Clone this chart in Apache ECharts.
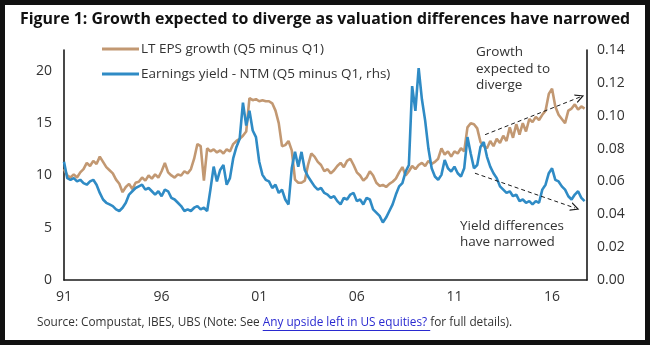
<!DOCTYPE html>
<html>
<head>
<meta charset="utf-8">
<script src="https://cdn.jsdelivr.net/npm/echarts@6/dist/echarts.min.js"></script>
<style>
  html, body { margin: 0; padding: 0; background: #fff; }
  #chart { width: 650px; height: 345px; }
</style>
</head>
<body>
<div id="chart"></div>
<script>
// Bi-monthly observations starting January 1991
const startYear = 1991;
const stepMonths = 2;

// LT EPS growth, Q5 minus Q1 (left axis, %)
const epsGrowth = [
  10.6, 10.0, 9.8, 10.1, 9.8, 10.3,
  10.6, 11.2, 10.9, 11.4, 11.1, 11.8,
  11.3, 10.8, 10.5, 10.2, 9.6, 9.2,
  8.4, 8.9, 9.2, 8.7, 9.3, 9.4,
  9.8, 9.5, 10.0, 9.7, 10.1, 9.8,
  10.4, 11.2, 10.3, 10.0, 9.8, 10.1,
  10.0, 10.4, 10.2, 10.6, 11.6, 13.0,
  12.8, 9.5, 12.6, 12.3, 12.5, 12.2,
  12.4, 12.1, 12.5, 12.3, 13.0, 13.3,
  13.5, 13.8, 14.2, 17.4, 17.2, 17.3,
  17.1, 17.2, 17.1, 17.1, 16.9, 16.2,
  15.0, 12.8, 12.9, 13.3, 12.4, 9.6,
  9.3, 9.3, 9.5, 11.0, 12.1, 11.8,
  11.3, 11.0, 10.4, 10.6, 10.2, 10.5,
  10.9, 11.2, 10.8, 11.4, 11.6, 11.0,
  10.3, 10.0, 9.5, 9.8, 10.4, 10.0,
  9.3, 9.0, 9.1, 8.9, 9.2, 9.4,
  9.7, 10.3, 10.8, 10.0, 10.4, 10.9,
  10.6, 11.0, 11.2, 10.9, 11.4, 11.1,
  11.3, 11.6, 12.6, 12.0, 12.3, 11.8,
  12.3, 12.1, 12.6, 12.3, 14.6, 15.0,
  14.9, 14.5, 13.2, 12.8, 12.6, 13.3,
  12.8, 13.5, 13.1, 13.8, 13.3, 14.6,
  13.6, 14.9, 13.9, 15.0, 14.2, 15.4,
  15.1, 15.6, 15.3, 15.8, 16.2, 17.8,
  18.3, 16.6, 15.8, 15.4, 15.0, 16.2,
  16.4, 16.8, 16.3, 16.6, 16.4
];

// Earnings yield NTM, Q5 minus Q1 (right axis)
const earningsYield = [
  0.072, 0.062, 0.061, 0.062, 0.060, 0.061,
  0.059, 0.058, 0.060, 0.061, 0.058, 0.053,
  0.049, 0.047, 0.046, 0.045, 0.043, 0.042,
  0.044, 0.047, 0.052, 0.054, 0.056, 0.057,
  0.058, 0.055, 0.056, 0.054, 0.052, 0.054,
  0.051, 0.055, 0.054, 0.050, 0.049, 0.047,
  0.045, 0.042, 0.043, 0.042, 0.044, 0.045,
  0.043, 0.044, 0.042, 0.055, 0.069, 0.060,
  0.067, 0.070, 0.058, 0.062, 0.074, 0.081,
  0.086, 0.108, 0.094, 0.103, 0.091, 0.087,
  0.072, 0.064, 0.061, 0.060, 0.056, 0.058,
  0.053, 0.055, 0.049, 0.046, 0.068, 0.078,
  0.069, 0.078, 0.067, 0.063, 0.060, 0.057,
  0.055, 0.056, 0.053, 0.052, 0.050, 0.051,
  0.048, 0.046, 0.050, 0.049, 0.052, 0.053,
  0.048, 0.049, 0.046, 0.050, 0.049, 0.043,
  0.041, 0.039, 0.035, 0.038, 0.042, 0.046,
  0.052, 0.057, 0.059, 0.066, 0.070, 0.118,
  0.103, 0.129, 0.110, 0.097, 0.080, 0.068,
  0.063, 0.061, 0.064, 0.073, 0.068, 0.066,
  0.069, 0.065, 0.063, 0.068, 0.087, 0.077,
  0.068, 0.070, 0.081, 0.084, 0.075, 0.069,
  0.065, 0.062, 0.057, 0.055, 0.053, 0.054,
  0.051, 0.052, 0.048, 0.049, 0.047, 0.048,
  0.046, 0.048, 0.047, 0.055, 0.058, 0.065,
  0.068, 0.061, 0.060, 0.057, 0.055, 0.051,
  0.049, 0.052, 0.054, 0.050, 0.048
];

const seriesNames = ['LT EPS growth (Q5 minus Q1)', 'Earnings yield - NTM (Q5 minus Q1, rhs)'];
const titleText = 'Figure 1: Growth expected to diverge as valuation differences have narrowed';
const noteParts = ['Source: Compustat, IBES, UBS (Note: See ', 'Any upside left in US equities? ', 'for full details).'];
const growthNote = 'Growth\nexpected to\ndiverge';
const yieldNote = 'Yield differences\nhave narrowed';

// Trend arrows, in data units: [yearsSince1991, value]
const growthArrow = [[21.57, 13.9], [26.43, 17.5]];
const yieldArrow = [[21.05, 0.065], [26.18, 0.0438]];

const brown = '#c29872';
const blue = '#2f8bc5';
const ink = '#333333';
const FONT = '"Open Sans", "Noto Sans", sans-serif';

const toXY = (vals) => vals.map((v, i) => [i * stepMonths / 12, v]);

const measure = (() => {
  const c = document.createElement('canvas').getContext('2d');
  return (txt, size, weight) => {
    c.font = (weight || 'normal') + ' ' + size + 'px ' + FONT;
    return c.measureText(txt).width;
  };
})();

const noteSize = 11.8;
const noteX = 37, noteY = 323;
const w0 = measure(noteParts[0], noteSize);
const w1 = measure(noteParts[1], noteSize);

// Open chevron used as the arrow head
const chevron = 'path://M0,10 L5,0 L10,10 L8.6,10 L5,2.8 L1.4,10 Z';

const chart = echarts.init(document.getElementById('chart'), null, { renderer: 'canvas' });

chart.setOption({
  animation: false,
  textStyle: { fontFamily: FONT },
  grid: { left: 64, right: 63, top: 50, bottom: 65, containLabel: false },
  legend: {
    orient: 'vertical',
    left: 97,
    top: 37,
    itemGap: 11,
    itemWidth: 37,
    itemHeight: 3,
    icon: 'rect',
    textStyle: { fontSize: 13.5, color: ink, fontFamily: FONT, padding: [0, 0, 0, -3] },
    data: seriesNames
  },
  xAxis: {
    type: 'value',
    min: 0,
    max: 26.79,
    interval: 5,
    axisLine: { show: true, lineStyle: { color: '#1a1a1a', width: 1.6 } },
    axisTick: { show: false },
    splitLine: { show: false },
    axisLabel: {
      color: ink, fontSize: 14, margin: 10, showMaxLabel: false,
      formatter: (v) => String(startYear + v).slice(2)
    }
  },
  yAxis: [
    {
      type: 'value', min: 0, max: 22, interval: 5,
      axisLine: { show: true, lineStyle: { color: '#1a1a1a', width: 1.6 } },
      axisTick: { show: false },
      splitLine: { show: false },
      axisLabel: { color: ink, fontSize: 14, margin: 12, showMaxLabel: false }
    },
    {
      type: 'value', min: 0, max: 0.14, interval: 0.02,
      axisLine: { show: true, lineStyle: { color: '#1a1a1a', width: 1.6 } },
      axisTick: { show: false },
      splitLine: { show: false },
      axisLabel: { color: ink, fontSize: 14, margin: 10, formatter: (v) => v.toFixed(2) }
    }
  ],
  series: [
    {
      name: seriesNames[0],
      type: 'line',
      yAxisIndex: 0,
      data: toXY(epsGrowth),
      showSymbol: false,
      color: brown,
      lineStyle: { width: 2.6, color: brown },
      z: 2,
      markLine: {
        silent: true,
        animation: false,
        label: { show: false },
        lineStyle: { type: [4, 3], color: '#1a1a1a', width: 1 },
        symbolSize: [9, 9],
        data: [[
          { coord: growthArrow[0], symbol: 'none' },
          { coord: growthArrow[1], symbol: chevron }
        ]]
      }
    },
    {
      name: seriesNames[1],
      type: 'line',
      yAxisIndex: 1,
      data: toXY(earningsYield),
      showSymbol: false,
      color: blue,
      lineStyle: { width: 2.6, color: blue },
      z: 3,
      markLine: {
        silent: true,
        animation: false,
        label: { show: false },
        lineStyle: { type: [4, 3], color: '#1a1a1a', width: 1 },
        symbolSize: [9, 9],
        data: [[
          { coord: yieldArrow[0], symbol: 'none' },
          { coord: yieldArrow[1], symbol: chevron }
        ]]
      }
    }
  ],
  graphic: [
    {
      type: 'text', left: 'center', top: 11,
      style: { text: titleText, font: 'bold 15.9px ' + FONT, fill: '#111' }
    },
    {
      type: 'text', x: 476, y: 44,
      style: { text: growthNote, font: '13.5px ' + FONT, fill: ink, lineHeight: 16.5 }
    },
    {
      type: 'text', x: 460, y: 218,
      style: { text: yieldNote, font: '13.5px ' + FONT, fill: ink, lineHeight: 16 }
    },
    {
      type: 'text', x: noteX, y: noteY, style: { text: noteParts[0], font: noteSize + 'px ' + FONT, fill: ink, verticalAlign: 'middle' }
    },
    {
      type: 'text', x: noteX + w0, y: noteY, style: { text: noteParts[1], font: noteSize + 'px ' + FONT, fill: '#2a2ad0', verticalAlign: 'middle' }
    },
    {
      type: 'rect', shape: { x: noteX + w0, y: noteY + 7, width: w1, height: 1 }, style: { fill: '#2a2ad0' }
    },
    {
      type: 'text', x: noteX + w0 + w1, y: noteY, style: { text: noteParts[2], font: noteSize + 'px ' + FONT, fill: ink, verticalAlign: 'middle' }
    },
    {
      type: 'rect', z: 100, silent: true,
      shape: { x: 2.5, y: 2.5, width: 645, height: 340 },
      style: { fill: 'none', stroke: '#111', lineWidth: 5 }
    }
  ]
});
</script>
</body>
</html>
